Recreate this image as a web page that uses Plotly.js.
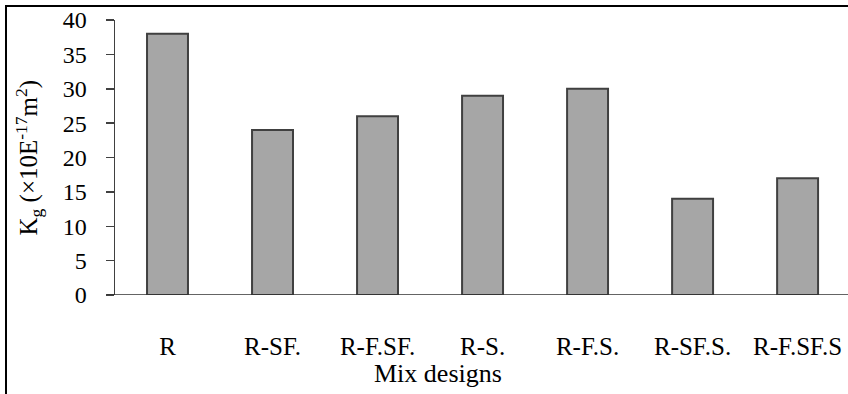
<!DOCTYPE html>
<html>
<head>
<meta charset="utf-8">
<script src="https://cdn.plot.ly/plotly-3.0.1.min.js"></script>
<style>
html,body{margin:0;padding:0;background:#fff;}
#wrap{position:relative;width:848px;height:394px;overflow:hidden;}
#chart{width:848px;height:394px;}
#frame{position:absolute;left:5px;top:5px;width:850px;height:387px;border-left:2px solid #000;border-top:2px solid #000;border-bottom:1px solid #aaa;pointer-events:none;}
</style>
</head>
<body>
<div id="wrap"><div id="chart"></div><div id="frame"></div></div>
<script>
const categories = ["R", "R-SF.", "R-F.SF.", "R-S.", "R-F.S.", "R-SF.S.", "R-F.SF.S"];
const kgValues = [38, 24, 26, 29, 30, 14, 17];
const yTickValues = [0, 5, 10, 15, 20, 25, 30, 35, 40];

const serif = "Liberation Serif, Times New Roman, serif";

const trace = {
  type: "bar",
  x: categories,
  y: kgValues,
  marker: {color: "#a6a6a6", line: {color: "#404040", width: 2}},
  hoverinfo: "none"
};

const layout = {
  width: 848, height: 394,
  margin: {l: 115, r: 0, t: 20, b: 99},
  paper_bgcolor: "#fff", plot_bgcolor: "#fff",
  showlegend: false,
  bargap: 0.61,
  font: {family: serif, color: "#000"},
  xaxis: {
    type: "category",
    range: [-0.5, 6.48],
    showgrid: false, zeroline: false, showline: false,
    ticks: "", ticklen: 0,
    tickfont: {family: serif, size: 25, color: "#000"},
    ticklabelstandoff: 34,
    fixedrange: true
  },
  yaxis: {
    range: [0, 40],
    tickvals: yTickValues,
    ticktext: yTickValues.map(String),
    showgrid: false, zeroline: false,
    showline: true, linecolor: "#404040", linewidth: 1.5,
    ticks: "outside", ticklen: 8, tickcolor: "#404040", tickwidth: 1.5,
    tickfont: {family: serif, size: 24, color: "#000"},
    ticklabelstandoff: 14,
    fixedrange: true
  },
  shapes: [{
    type: "line", xref: "paper", yref: "y",
    x0: -8/733, x1: 1.01, y0: 0, y1: 0,
    line: {color: "#303030", width: 1.5}
  }],
  annotations: [
    {text: "Mix designs", xref: "paper", yref: "paper", x: (438-115)/733, y: -(373-295)/275,
     xanchor: "center", yanchor: "middle", showarrow: false,
     font: {family: serif, size: 26, color: "#000"}},
    {text: "K<sub>g</sub> (×10E<sup>-17</sup>m<sup>2</sup>)", xref: "paper", yref: "paper",
     x: (28-115)/733, y: 0.5, textangle: -90, xanchor: "center", yanchor: "middle", showarrow: false,
     font: {family: serif, size: 25, color: "#000"}}
  ]
};

Plotly.newPlot("chart", [trace], layout, {displayModeBar: false, staticPlot: true});
</script>
</body>
</html>
